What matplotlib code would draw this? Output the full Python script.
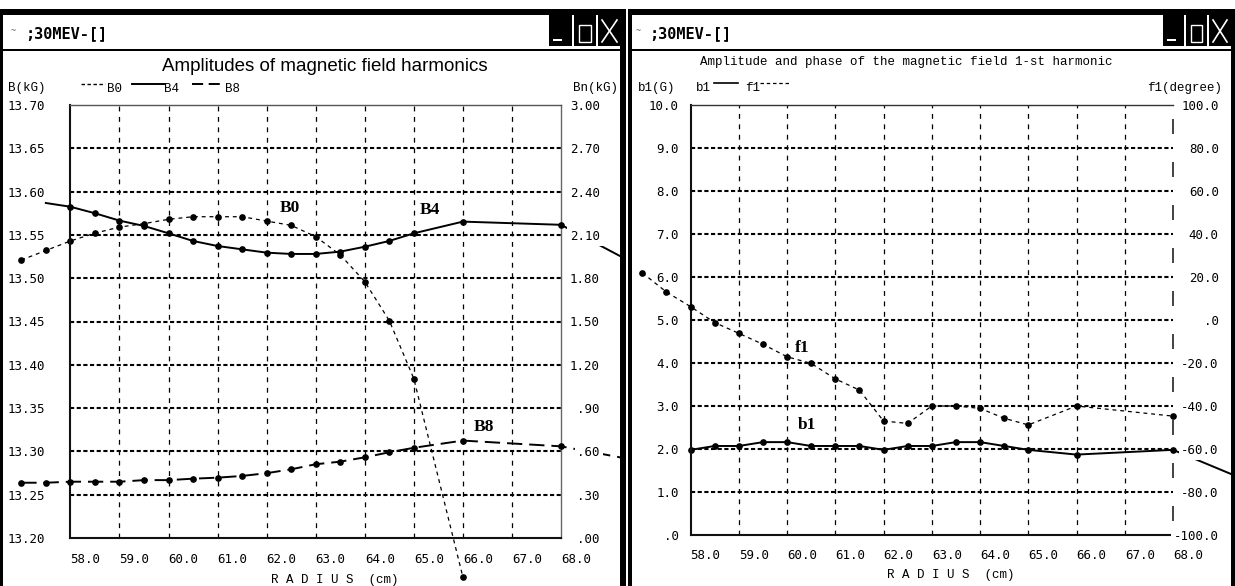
import matplotlib
matplotlib.use('Agg')
import matplotlib.pyplot as plt
from matplotlib.patches import Rectangle

plt.rcParams['lines.scale_dashes'] = False
plt.rcParams['font.family'] = ['DejaVu Sans Mono']

W, H = 1235, 586

# radius axis (both windows)
x_ticks = [58.0, 59.0, 60.0, 61.0, 62.0, 63.0, 64.0, 65.0, 66.0, 67.0, 68.0]
x_labels = ['58.0', '59.0', '60.0', '61.0', '62.0', '63.0', '64.0', '65.0', '66.0', '67.0', '68.0']

# left window: B0 on the left scale, B4 and B8 on the right scale
B_ticks = [13.20, 13.25, 13.30, 13.35, 13.40, 13.45, 13.50, 13.55, 13.60, 13.65, 13.70]
B_labels = ['13.20', '13.25', '13.30', '13.35', '13.40', '13.45', '13.50', '13.55', '13.60', '13.65', '13.70']
Bn_ticks = [0.0, 0.3, 0.6, 0.9, 1.2, 1.5, 1.8, 2.1, 2.4, 2.7, 3.0]
Bn_labels = ['.00', '.30', '.60', '.90', '1.20', '1.50', '1.80', '2.10', '2.40', '2.70', '3.00']

r_b0 = [57.0, 57.5, 58.0, 58.5, 59.0, 59.5, 60.0, 60.5, 61.0, 61.5, 62.0, 62.5, 63.0, 63.5, 64.0, 64.5, 65.0, 66.0]
b0 = [13.521, 13.532, 13.543, 13.552, 13.559, 13.563, 13.568, 13.571, 13.571, 13.571, 13.566, 13.561,
      13.548, 13.527, 13.496, 13.451, 13.384, 13.155]

r_b4 = [57.5, 58.0, 58.5, 59.0, 59.5, 60.0, 60.5, 61.0, 61.5, 62.0, 62.5, 63.0, 63.5, 64.0, 64.5, 65.0, 66.0, 68.0, 69.5]
b4 = [2.321, 2.295, 2.250, 2.199, 2.162, 2.111, 2.058, 2.023, 2.000, 1.977, 1.968, 1.968, 1.984, 2.018,
      2.058, 2.111, 2.192, 2.170, 1.900]

r_b8 = [57.0, 57.5, 58.0, 58.5, 59.0, 59.5, 60.0, 60.5, 61.0, 61.5, 62.0, 62.5, 63.0, 63.5, 64.0, 64.5, 65.0,
        66.0, 68.0, 69.5]
b8 = [0.383, 0.383, 0.390, 0.390, 0.390, 0.401, 0.401, 0.411, 0.418, 0.430, 0.449, 0.476, 0.511, 0.529,
      0.559, 0.594, 0.625, 0.675, 0.635, 0.540]

# right window: b1 on the left scale, f1 on the right scale
b1_ticks = [0, 1, 2, 3, 4, 5, 6, 7, 8, 9, 10]
b1_labels = ['.0', '1.0', '2.0', '3.0', '4.0', '5.0', '6.0', '7.0', '8.0', '9.0', '10.0']
f1_ticks = [-100, -80, -60, -40, -20, 0, 20, 40, 60, 80, 100]
f1_labels = ['-100.0', '-80.0', '-60.0', '-40.0', '-20.0', '.0', '20.0', '40.0', '60.0', '80.0', '100.0']

r_b1 = [58.0, 58.5, 59.0, 59.5, 60.0, 60.5, 61.0, 61.5, 62.0, 62.5, 63.0, 63.5, 64.0, 64.5, 65.0, 66.0, 68.0, 69.5]
b1 = [1.98, 2.07, 2.07, 2.16, 2.16, 2.07, 2.07, 2.07, 1.98, 2.07, 2.07, 2.16, 2.16, 2.07, 1.98, 1.87, 1.98, 1.28]

r_f1 = [57.0, 57.5, 58.0, 58.5, 59.0, 59.5, 60.0, 60.5, 61.0, 61.5, 62.0, 62.5, 63.0, 63.5, 64.0, 64.5, 65.0,
        66.0, 68.0]
f1 = [21.9, 13.0, 6.2, -1.2, -6.2, -11.3, -17.1, -20.2, -27.4, -32.6, -47.0, -48.1, -40.0, -40.0, -41.1,
      -45.7, -48.8, -40.0, -44.7]

TICKFONT = 'DejaVu Sans Mono'
MONO = 'Liberation Mono'


def px_box(x0, y0, x1, y1):
    return [x0 / W, 1 - y1 / H, (x1 - x0) / W, (y1 - y0) / H]


def chrome(z):
    a = fig.add_axes([0, 0, 1, 1], zorder=z)
    a.set_xlim(0, W)
    a.set_ylim(H, 0)
    a.axis('off')
    a.patch.set_visible(False)
    return a


def setup_panel(ax, ax2, yticks, ylabels, y2ticks, y2labels, lpad, lha, rpad, xpad):
    ax.set_xlim(x_ticks[0], x_ticks[-1])
    ax.set_ylim(yticks[0], yticks[-1])
    ax2.set_ylim(y2ticks[0], y2ticks[-1])
    ax.set_xticks(x_ticks, labels=x_labels)
    ax.set_yticks(yticks, labels=ylabels)
    ax2.set_yticks(y2ticks, labels=y2labels)
    ax.tick_params(axis='x', length=0, pad=xpad, labelsize=9, labelfontfamily=TICKFONT)
    ax.tick_params(axis='y', length=0, pad=lpad, labelsize=9, labelfontfamily=TICKFONT)
    ax2.tick_params(axis='y', length=0, pad=rpad, labelsize=9, labelfontfamily=TICKFONT)
    # right-hand labels sit on white and hide the curves running past the frame
    ax2.set_axisbelow(False)
    plt.setp(ax.get_xticklabels(), ha='left', va='center')
    plt.setp(ax.get_yticklabels(), ha=lha)
    for t in ax2.get_yticklabels():
        t.set_ha('right')
        t.set_bbox(dict(facecolor='white', edgecolor='none', pad=2))
    for s in ax2.spines.values():
        s.set_visible(False)
    # grid: bold dashes across, thin dashes up
    for v in yticks[1:-1]:
        ax.axhline(v, color='black', lw=1.5, dashes=(3.0, 1.8), zorder=1)
    for v in x_ticks[1:-1]:
        ax.axvline(v, color='black', lw=0.9, dashes=(3.5, 4.0), zorder=1)
    ax.patch.set_visible(False)


fig = plt.figure(figsize=(W / 100, H / 100), dpi=100)

# ---------------- left window ----------------
axL = fig.add_axes(px_box(70.4, 105, 561, 538))
axL2 = axL.twinx()
axL.set_zorder(1)
axL2.set_zorder(1)
setup_panel(axL, axL2, B_ticks, B_labels, Bn_ticks, Bn_labels, 45, 'left', 28, 15.8)
axL.spines['left'].set(color='#111', lw=1.5)
axL.spines['bottom'].set(color='#111', lw=1.5)
axL.spines['top'].set(color='#555', lw=1.0)
axL.spines['right'].set(color='#666', lw=1.0)

axL.plot(r_b0, b0, color='black', lw=0.9, dashes=(2.8, 2.8), marker='o', ms=3.8, clip_on=False, zorder=2)
axL2.plot(r_b4, b4, color='black', lw=1.4, marker='o', ms=3.8, markevery=list(range(1, len(r_b4) - 1)),
          clip_on=False, zorder=2)
axL2.plot(r_b8, b8, color='black', lw=1.4, dashes=(11, 5), marker='o', ms=3.8,
          markevery=list(range(0, len(r_b8) - 1)), clip_on=False, zorder=2)

ann = dict(family='Liberation Serif', weight='bold', fontsize=12.5, ha='center', va='center', zorder=4)
axL.text(62.48, 13.581, 'B0', **ann)
axL.text(65.33, 13.579, 'B4', **ann)
axL.text(66.43, 13.328, 'B8', **ann)

# ---------------- right window ----------------
axR = fig.add_axes(px_box(690.6, 105, 1173, 535))
axR2 = axR.twinx()
axR.set_zorder(3)
axR2.set_zorder(3)
setup_panel(axR, axR2, b1_ticks, b1_labels, f1_ticks, f1_labels, 8.4, 'right', 33, 15)
axR.spines['left'].set(color='#111', lw=1.5)
axR.spines['bottom'].set(color='#111', lw=1.5)
axR.spines['top'].set(color='#333', lw=1.0)
axR.spines['right'].set_visible(False)
# right edge is drawn as long dashes between the grid lines
mids = [(a + b) / 2 for a, b in zip(b1_ticks[:-1], b1_ticks[1:])]
axR.vlines([x_ticks[-1]] * len(mids), [m - 0.175 for m in mids], [m + 0.175 for m in mids],
           color='#222', lw=1.2, clip_on=False, zorder=1)

axR.plot(r_b1, b1, color='black', lw=1.4, marker='o', ms=3.8, markevery=list(range(0, len(r_b1) - 1)),
         clip_on=False, zorder=2)
axR2.plot(r_f1, f1, color='black', lw=0.9, dashes=(2.8, 2.8), marker='o', ms=3.8, clip_on=False, zorder=2)
axR.text(60.31, 4.35, 'f1', **ann)
axR.text(60.41, 2.56, 'b1', **ann)

# ---------------- window chrome ----------------
mid = chrome(2)
mid.add_patch(Rectangle((626, 0), W - 626, H, facecolor='white', edgecolor='none'))

top = chrome(5)
blk = dict(facecolor='black', edgecolor='none')
# left window frame
top.add_patch(Rectangle((0, 9), 623, 6, **blk))
top.add_patch(Rectangle((0, 9), 3, H - 9, **blk))
top.add_patch(Rectangle((620, 9), 6, H - 9, **blk))
top.add_patch(Rectangle((0, 49), 623, 2, **blk))
# right window frame
top.add_patch(Rectangle((628, 9), W - 628, 6, **blk))
top.add_patch(Rectangle((628, 9), 4, H - 9, **blk))
top.add_patch(Rectangle((1231, 9), 4, H - 9, **blk))
top.add_patch(Rectangle((628, 49), W - 628, 2, **blk))


def title_bar(x_icon, x_text, buttons):
    top.text(x_icon, 31, '~', fontsize=6, color='#666', ha='left', va='center')
    top.text(x_text, 34, ';30MEV-[]', family='DejaVu Sans Mono', weight='bold', fontsize=11,
             ha='left', va='center')
    (x1, w1), (x2, w2), (x3, w3) = buttons
    for bx, bw in buttons:
        top.add_patch(Rectangle((bx, 15), bw, 31, **blk))
    top.add_patch(Rectangle((x1 + 4, 39), 9, 2, facecolor='white', edgecolor='none'))
    top.add_patch(Rectangle((x2 + 5, 25), w2 - 10, 17, facecolor='none', edgecolor='white', lw=1))
    top.plot([x3 + 4, x3 + w3 - 4], [20, 42], color='white', lw=1.2)
    top.plot([x3 + w3 - 4, x3 + 4], [20, 42], color='white', lw=1.2)


title_bar(11, 25, [(549, 23), (574, 22), (598, 23)])
title_bar(636, 649, [(1163, 21), (1186, 21), (1209, 22)])

# titles, scale names, legends
top.text(325, 71, 'Amplitudes of magnetic field harmonics', family='Liberation Sans', fontsize=13.5,
         ha='center', va='baseline')
top.text(700, 62, 'Amplitude and phase of the magnetic field 1-st harmonic', family=MONO, fontsize=9,
         ha='left', va='center')
hdr = dict(family=MONO, fontsize=9, va='center')
top.text(8, 88, 'B(kG)', ha='left', **hdr)
top.text(618, 88, 'Bn(kG)', ha='right', **hdr)
top.text(638, 88, 'b1(G)', ha='left', **hdr)
top.text(1222, 88, 'f1(degree)', ha='right', **hdr)

top.plot([81, 105], [84, 84], color='black', lw=1.0, dashes=(2.5, 1.8))
top.text(107, 89, 'B0', ha='left', **hdr)
top.plot([132, 164], [84, 84], color='black', lw=1.4)
top.text(164, 89, 'B4', ha='left', **hdr)
top.plot([192, 225], [84, 84], color='black', lw=1.4, dashes=(8, 4))
top.text(225, 89, 'B8', ha='left', **hdr)

top.text(696, 88, 'b1', ha='left', **hdr)
top.plot([714, 738], [83, 83], color='black', lw=1.2)
top.text(745, 88, 'f1', ha='left', **hdr)
top.plot([760, 789], [83, 83], color='black', lw=0.9, dashes=(2.5, 2.0))

top.text(271, 580, 'R A D I U S  (cm)', family=MONO, fontsize=9, ha='left', va='center')
top.text(887, 575, 'R A D I U S  (cm)', family=MONO, fontsize=9, ha='left', va='center')

fig.savefig('out.png', dpi=100)
